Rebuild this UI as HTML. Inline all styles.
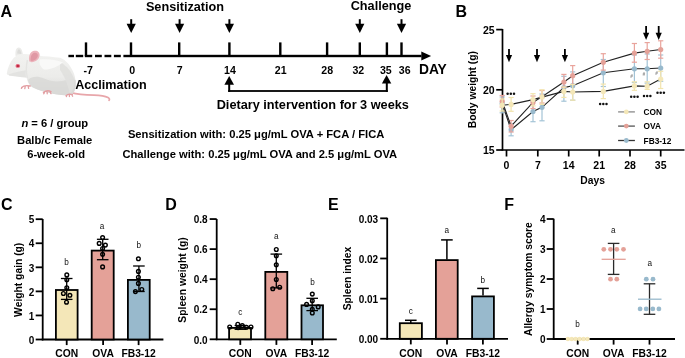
<!DOCTYPE html><html><head><meta charset="utf-8"><style>html,body{margin:0;padding:0;background:#fff;}svg{display:block;will-change:transform;}text{font-family:"Liberation Sans", sans-serif;}</style></head><body>
<svg width="685" height="358" viewBox="0 0 685 358">
<rect width="685" height="358" fill="#fff"/>
<text x="0.6" y="16.6" font-size="16" text-anchor="start" font-weight="bold" fill="#000" >A</text>
<text x="185.0" y="10.7" font-size="12.7" text-anchor="middle" font-weight="bold" fill="#000" >Sensitization</text>
<text x="381.0" y="10.2" font-size="12.7" text-anchor="middle" font-weight="bold" fill="#000" >Challenge</text>
<rect x="130.2" y="19.2" width="2.0" height="5.600000000000001" fill="#000" />
<polygon points="126.6,23.8 135.79999999999998,23.8 131.2,33.0" fill="#000"/>
<rect x="178.6" y="19.2" width="2.0" height="5.600000000000001" fill="#000" />
<polygon points="175.0,23.8 184.2,23.8 179.6,33.0" fill="#000"/>
<rect x="228.4" y="19.2" width="2.0" height="5.600000000000001" fill="#000" />
<polygon points="224.8,23.8 234.0,23.8 229.4,33.0" fill="#000"/>
<rect x="358.8" y="19.2" width="2.0" height="5.600000000000001" fill="#000" />
<polygon points="355.2,23.8 364.40000000000003,23.8 359.8,33.0" fill="#000"/>
<rect x="400.5" y="19.2" width="2.0" height="5.600000000000001" fill="#000" />
<polygon points="396.9,23.8 406.1,23.8 401.5,33.0" fill="#000"/>
<rect x="68.4" y="54.8" width="5.599999999999994" height="2.4" fill="#000" />
<rect x="75.8" y="54.8" width="7.400000000000006" height="2.4" fill="#000" />
<rect x="84.8" y="54.8" width="7.400000000000006" height="2.4" fill="#000" />
<rect x="95" y="54.8" width="6.799999999999997" height="2.4" fill="#000" />
<rect x="104.5" y="54.8" width="6.799999999999997" height="2.4" fill="#000" />
<rect x="113.9" y="54.8" width="6.8999999999999915" height="2.4" fill="#000" />
<rect x="123.4" y="54.8" width="298.1" height="2.4" fill="#000" />
<polygon points="421.3,51.4 431.1,56 421.3,60.6" fill="#000"/>
<rect x="84.8" y="42.4" width="2.4" height="13.600000000000001" fill="#000" />
<rect x="129.8" y="42.4" width="2.4" height="13.600000000000001" fill="#000" />
<rect x="178.0" y="42.4" width="2.4" height="13.600000000000001" fill="#000" />
<rect x="228.20000000000002" y="42.4" width="2.4" height="13.600000000000001" fill="#000" />
<rect x="279.1" y="42.4" width="2.4" height="13.600000000000001" fill="#000" />
<rect x="325.90000000000003" y="42.4" width="2.4" height="13.600000000000001" fill="#000" />
<rect x="358.6" y="42.4" width="2.4" height="13.600000000000001" fill="#000" />
<rect x="385.7" y="42.4" width="2.4" height="13.600000000000001" fill="#000" />
<rect x="400.3" y="42.4" width="2.4" height="13.600000000000001" fill="#000" />
<text x="88.2" y="73.7" font-size="10.6" text-anchor="middle" font-weight="bold" fill="#000" >-7</text>
<text x="132.1" y="73.7" font-size="10.6" text-anchor="middle" font-weight="bold" fill="#000" >0</text>
<text x="179.6" y="73.7" font-size="10.6" text-anchor="middle" font-weight="bold" fill="#000" >7</text>
<text x="229.9" y="73.7" font-size="10.6" text-anchor="middle" font-weight="bold" fill="#000" >14</text>
<text x="280.7" y="73.7" font-size="10.6" text-anchor="middle" font-weight="bold" fill="#000" >21</text>
<text x="327.2" y="73.7" font-size="10.6" text-anchor="middle" font-weight="bold" fill="#000" >28</text>
<text x="358.3" y="73.7" font-size="10.6" text-anchor="middle" font-weight="bold" fill="#000" >32</text>
<text x="385.8" y="73.7" font-size="10.6" text-anchor="middle" font-weight="bold" fill="#000" >35</text>
<text x="404.7" y="73.7" font-size="10.6" text-anchor="middle" font-weight="bold" fill="#000" >36</text>
<text x="432.9" y="73.8" font-size="13.8" text-anchor="middle" font-weight="bold" fill="#000" >DAY</text>
<text x="110.9" y="88.9" font-size="12.6" text-anchor="middle" font-weight="bold" fill="#000" >Acclimation</text>
<polygon points="224.39999999999998,84.7 234.0,84.7 229.2,75.9" fill="#000"/>
<polygon points="381.90000000000003,83.6 391.3,83.6 386.6,74.9" fill="#000"/>
<rect x="228.2" y="84" width="2.0" height="7.900000000000006" fill="#000" />
<rect x="385.8" y="83" width="2.0" height="8.900000000000006" fill="#000" />
<rect x="228.2" y="90.1" width="159.60000000000002" height="1.8" fill="#000" />
<text x="312.8" y="109.1" font-size="12.72" text-anchor="middle" font-weight="bold" fill="#000" >Dietary intervention for 3 weeks</text>
<text x="256.1" y="138.2" font-size="11.2" text-anchor="middle" font-weight="bold" fill="#000" >Sensitization with: 0.25 μg/mL OVA + FCA / FICA</text>
<text x="259.8" y="158.0" font-size="11.2" text-anchor="middle" font-weight="bold" fill="#000" >Challenge with: 0.25 μg/mL OVA and 2.5 μg/mL OVA</text>
<text x="54.8" y="127.0" font-size="11.2" text-anchor="middle" font-weight="bold"><tspan font-style="italic">n</tspan> = 6 / group</text>
<text x="54.7" y="143.5" font-size="11.2" text-anchor="middle" font-weight="bold" fill="#000" >Balb/c Female</text>
<text x="56.1" y="158.4" font-size="11.2" text-anchor="middle" font-weight="bold" fill="#000" >6-week-old</text>

<defs>
<linearGradient id="mbody" x1="0" y1="0" x2="0" y2="1">
<stop offset="0" stop-color="#f2f2f0"/><stop offset="0.55" stop-color="#ececea"/><stop offset="1" stop-color="#d6d6d4"/>
</linearGradient>
</defs>
<g>
<path d="M71,92.6 C78,94.6 86,95 94,95.1 C100,95.3 105,96 108,97.5 C109.6,98.4 109.8,99.6 109,100.3" fill="none" stroke="#e8a6aa" stroke-width="1.7" stroke-linecap="round"/>
<path d="M15.6,56 C15,51 16,47.8 18.6,47.4 C21,47.2 22.4,50 23,55 Z" fill="#ebebe9"/>
<path d="M17.2,53.6 C17.2,50.6 18.2,49.2 19,49.2 C20.2,49.4 21,51.4 21.4,54 Z" fill="#dcdcda"/>
<path d="M6.8,73.6 C7.6,68 10,62 13.6,58 C16.6,55 20.6,53.6 25,54 C29,54.4 33,55 38,55.4 C45,56.4 53,56.6 60.2,57.8 C66,60 71,66 73.9,73.5 C75.6,78 76.2,84 75,89.4 C74,92.4 72.4,94.4 69.6,95 C63,95.6 57,94.6 50,93 C44,91.8 38,90 33,87.6 C29.4,85.8 27.4,82 26.6,77.6 C22,76.6 17,76.6 12,76 C9,75.6 6.6,75 6.8,73.6 Z" fill="url(#mbody)"/>
<path d="M28,80 C32,76 38,76 44,78.5 C50,81 56,82 62,81 C67,80 71,78 75.6,80 C76,84 75.8,88 75,89.4 C74,92.4 72.4,94.4 69.6,95 C63,95.6 57,94.6 50,93 C44,91.8 38,90 33,87.6 C30,86 28.6,83 28,80 Z" fill="#d9d9d7" opacity="0.85"/>
<path d="M60,62 C67,66 72,72 74.6,80 C74.6,86 73,91 70,94 C68,87 66,78 60,70 Z" fill="#e0e0de" opacity="0.9"/>
<path d="M40,59.5 C48,59 56,59.6 63,62.4 C58,66 52,69.6 44,69.6 C40,67 38.6,62.6 40,59.5 Z" fill="#f9f9f8"/>
<path d="M9,74.2 C14,72.6 20,71.2 26,70.2 C25.4,73 25.6,75.6 26.4,77.6 C20,76.8 14,76.2 9,75.4 Z" fill="#e3e3e1"/>
<path d="M27.4,60 C26,66 26,72 27.4,78" fill="none" stroke="#e4e4e2" stroke-width="1.4"/>
<path d="M29.2,61 C28.6,56 30,51.6 34,50.8 C37.6,50.2 40,52.4 39.6,55.6 C39.2,59.4 35.6,62.2 31.6,62.2 C30.4,62.2 29.6,61.8 29.2,61 Z" fill="#ecb4bc"/>
<path d="M30.6,60.4 C30.4,56.6 31.6,53.4 34.4,52.8 C36.8,52.4 38.2,54 37.8,56.2 C37.2,58.8 34.6,60.8 31.8,61 Z" fill="#e098a4"/>
<ellipse cx="17.8" cy="65.9" rx="2.3" ry="1.9" fill="#e36078"/>
<ellipse cx="17.9" cy="65.9" rx="1.2" ry="1.0" fill="#b8243c"/>
<path d="M21.6,87.4 C23.5,85.6 27,85.2 30.2,86 M22.4,87.2 L21.4,88.4 M25.2,86.6 L24.8,88.6 M28.2,86.4 L28.6,88.4" stroke="#e39ea2" stroke-width="1.3" fill="none" stroke-linecap="round"/>
<path d="M43.4,92.6 C45.6,90.6 48.6,90.4 51,91.6 M44.4,92.6 L43.8,93.8 M47.2,91.8 L47.2,93.8 M50,92 L51,93.6" stroke="#e39ea2" stroke-width="1.3" fill="none" stroke-linecap="round"/>
<path d="M66,95.6 C67.6,94 70,93.8 72.4,94.6 M66.8,95.4 L66.4,96.6 M69.4,94.8 L69.4,96.6 M71.8,95 L72.6,96.2" stroke="#e39ea2" stroke-width="1.3" fill="none" stroke-linecap="round"/>
</g>
<text x="455.6" y="16.8" font-size="16" text-anchor="start" font-weight="bold" fill="#000" >B</text>
<line x1="502.5" y1="29.0" x2="502.5" y2="150.5" stroke="#000" stroke-width="1.7" />
<line x1="501.7" y1="150.0" x2="684.5" y2="150.0" stroke="#000" stroke-width="1.7" />
<line x1="496.2" y1="29.6" x2="502.5" y2="29.6" stroke="#000" stroke-width="1.7" />
<text x="494.6" y="33.7" font-size="10.5" text-anchor="end" font-weight="bold" fill="#000" >25</text>
<line x1="496.2" y1="89.8" x2="502.5" y2="89.8" stroke="#000" stroke-width="1.7" />
<text x="494.6" y="93.89999999999999" font-size="10.5" text-anchor="end" font-weight="bold" fill="#000" >20</text>
<line x1="496.2" y1="150.0" x2="502.5" y2="150.0" stroke="#000" stroke-width="1.7" />
<text x="494.6" y="154.1" font-size="10.5" text-anchor="end" font-weight="bold" fill="#000" >15</text>
<line x1="506.5" y1="150.0" x2="506.5" y2="156.5" stroke="#000" stroke-width="1.7" />
<text x="506.5" y="168.8" font-size="10.5" text-anchor="middle" font-weight="bold" fill="#000" >0</text>
<line x1="537.8" y1="150.0" x2="537.8" y2="156.5" stroke="#000" stroke-width="1.7" />
<text x="537.8" y="168.8" font-size="10.5" text-anchor="middle" font-weight="bold" fill="#000" >7</text>
<line x1="568.7" y1="150.0" x2="568.7" y2="156.5" stroke="#000" stroke-width="1.7" />
<text x="568.7" y="168.8" font-size="10.5" text-anchor="middle" font-weight="bold" fill="#000" >14</text>
<line x1="599.2" y1="150.0" x2="599.2" y2="156.5" stroke="#000" stroke-width="1.7" />
<text x="599.2" y="168.8" font-size="10.5" text-anchor="middle" font-weight="bold" fill="#000" >21</text>
<line x1="630.0" y1="150.0" x2="630.0" y2="156.5" stroke="#000" stroke-width="1.7" />
<text x="630.0" y="168.8" font-size="10.5" text-anchor="middle" font-weight="bold" fill="#000" >28</text>
<line x1="660.7" y1="150.0" x2="660.7" y2="156.5" stroke="#000" stroke-width="1.7" />
<text x="660.7" y="168.8" font-size="10.5" text-anchor="middle" font-weight="bold" fill="#000" >35</text>
<text x="592.6" y="183.6" font-size="10.3" text-anchor="middle" font-weight="bold" fill="#000" >Days</text>
<text x="0" y="0" font-size="10.3" font-weight="bold" text-anchor="middle" transform="translate(476.0,89.6) rotate(-90)">Body weight (g)</text>
<rect x="508.1" y="49.0" width="1.8" height="7.0" fill="#000" />
<polygon points="505.9,55.0 512.1,55.0 509.0,62.2" fill="#000"/>
<rect x="536.1" y="49.0" width="1.8" height="7.0" fill="#000" />
<polygon points="533.9,55.0 540.1,55.0 537.0,62.2" fill="#000"/>
<rect x="564.0" y="49.0" width="1.8" height="7.0" fill="#000" />
<polygon points="561.8,55.0 568.0,55.0 564.9,62.2" fill="#000"/>
<rect x="645.2" y="26.0" width="1.8" height="7.799999999999997" fill="#000" />
<polygon points="643.0,32.8 649.2,32.8 646.1,40.0" fill="#000"/>
<rect x="657.8000000000001" y="26.0" width="1.8" height="7.799999999999997" fill="#000" />
<polygon points="655.6,32.8 661.8000000000001,32.8 658.7,40.0" fill="#000"/>
<line x1="502.2" y1="97" x2="502.2" y2="112.8" stroke="#a3c3d6" stroke-width="1.2" />
<line x1="499.59999999999997" y1="97" x2="504.8" y2="97" stroke="#a3c3d6" stroke-width="1.2" />
<line x1="499.59999999999997" y1="112.8" x2="504.8" y2="112.8" stroke="#a3c3d6" stroke-width="1.2" />
<line x1="511.1" y1="124" x2="511.1" y2="135.8" stroke="#a3c3d6" stroke-width="1.2" />
<line x1="508.5" y1="124" x2="513.7" y2="124" stroke="#a3c3d6" stroke-width="1.2" />
<line x1="508.5" y1="135.8" x2="513.7" y2="135.8" stroke="#a3c3d6" stroke-width="1.2" />
<line x1="533.0" y1="101.5" x2="533.0" y2="121.7" stroke="#a3c3d6" stroke-width="1.2" />
<line x1="530.4" y1="101.5" x2="535.6" y2="101.5" stroke="#a3c3d6" stroke-width="1.2" />
<line x1="530.4" y1="121.7" x2="535.6" y2="121.7" stroke="#a3c3d6" stroke-width="1.2" />
<line x1="542.0" y1="94" x2="542.0" y2="120.8" stroke="#a3c3d6" stroke-width="1.2" />
<line x1="539.4" y1="94" x2="544.6" y2="94" stroke="#a3c3d6" stroke-width="1.2" />
<line x1="539.4" y1="120.8" x2="544.6" y2="120.8" stroke="#a3c3d6" stroke-width="1.2" />
<line x1="563.9" y1="76.3" x2="563.9" y2="101.2" stroke="#a3c3d6" stroke-width="1.2" />
<line x1="561.3" y1="76.3" x2="566.5" y2="76.3" stroke="#a3c3d6" stroke-width="1.2" />
<line x1="561.3" y1="101.2" x2="566.5" y2="101.2" stroke="#a3c3d6" stroke-width="1.2" />
<line x1="572.7" y1="71.9" x2="572.7" y2="100.2" stroke="#a3c3d6" stroke-width="1.2" />
<line x1="570.1" y1="71.9" x2="575.3000000000001" y2="71.9" stroke="#a3c3d6" stroke-width="1.2" />
<line x1="570.1" y1="100.2" x2="575.3000000000001" y2="100.2" stroke="#a3c3d6" stroke-width="1.2" />
<line x1="603.3" y1="59.5" x2="603.3" y2="86.5" stroke="#a3c3d6" stroke-width="1.2" />
<line x1="600.6999999999999" y1="59.5" x2="605.9" y2="59.5" stroke="#a3c3d6" stroke-width="1.2" />
<line x1="600.6999999999999" y1="86.5" x2="605.9" y2="86.5" stroke="#a3c3d6" stroke-width="1.2" />
<line x1="634.4" y1="55" x2="634.4" y2="82.5" stroke="#a3c3d6" stroke-width="1.2" />
<line x1="631.8" y1="55" x2="637.0" y2="55" stroke="#a3c3d6" stroke-width="1.2" />
<line x1="631.8" y1="82.5" x2="637.0" y2="82.5" stroke="#a3c3d6" stroke-width="1.2" />
<line x1="647.2" y1="54" x2="647.2" y2="83.1" stroke="#a3c3d6" stroke-width="1.2" />
<line x1="644.6" y1="54" x2="649.8000000000001" y2="54" stroke="#a3c3d6" stroke-width="1.2" />
<line x1="644.6" y1="83.1" x2="649.8000000000001" y2="83.1" stroke="#a3c3d6" stroke-width="1.2" />
<line x1="660.7" y1="55" x2="660.7" y2="81.3" stroke="#a3c3d6" stroke-width="1.2" />
<line x1="658.1" y1="55" x2="663.3000000000001" y2="55" stroke="#a3c3d6" stroke-width="1.2" />
<line x1="658.1" y1="81.3" x2="663.3000000000001" y2="81.3" stroke="#a3c3d6" stroke-width="1.2" />
<polyline points="502.2,103.6 511.1,129.7 533.0,111.5 542.0,107.3 563.9,87.6 572.7,85.7 603.3,72.8 634.4,68.8 647.2,68.8 660.7,68.0" fill="none" stroke="#222" stroke-width="1.1"/>
<circle cx="502.2" cy="103.6" r="2.6" fill="#98b9cc"/>
<circle cx="511.1" cy="129.7" r="2.6" fill="#98b9cc"/>
<circle cx="533.0" cy="111.5" r="2.6" fill="#98b9cc"/>
<circle cx="542.0" cy="107.3" r="2.6" fill="#98b9cc"/>
<circle cx="563.9" cy="87.6" r="2.6" fill="#98b9cc"/>
<circle cx="572.7" cy="85.7" r="2.6" fill="#98b9cc"/>
<circle cx="603.3" cy="72.8" r="2.6" fill="#98b9cc"/>
<circle cx="634.4" cy="68.8" r="2.6" fill="#98b9cc"/>
<circle cx="647.2" cy="68.8" r="2.6" fill="#98b9cc"/>
<circle cx="660.7" cy="68.0" r="2.6" fill="#98b9cc"/>
<line x1="502.2" y1="95.5" x2="502.2" y2="107" stroke="#e9a49c" stroke-width="1.2" />
<line x1="499.59999999999997" y1="95.5" x2="504.8" y2="95.5" stroke="#e9a49c" stroke-width="1.2" />
<line x1="499.59999999999997" y1="107" x2="504.8" y2="107" stroke="#e9a49c" stroke-width="1.2" />
<line x1="511.1" y1="120.5" x2="511.1" y2="132" stroke="#e9a49c" stroke-width="1.2" />
<line x1="508.5" y1="120.5" x2="513.7" y2="120.5" stroke="#e9a49c" stroke-width="1.2" />
<line x1="508.5" y1="132" x2="513.7" y2="132" stroke="#e9a49c" stroke-width="1.2" />
<line x1="533.0" y1="96" x2="533.0" y2="108.5" stroke="#e9a49c" stroke-width="1.2" />
<line x1="530.4" y1="96" x2="535.6" y2="96" stroke="#e9a49c" stroke-width="1.2" />
<line x1="530.4" y1="108.5" x2="535.6" y2="108.5" stroke="#e9a49c" stroke-width="1.2" />
<line x1="542.0" y1="90.5" x2="542.0" y2="103" stroke="#e9a49c" stroke-width="1.2" />
<line x1="539.4" y1="90.5" x2="544.6" y2="90.5" stroke="#e9a49c" stroke-width="1.2" />
<line x1="539.4" y1="103" x2="544.6" y2="103" stroke="#e9a49c" stroke-width="1.2" />
<line x1="563.9" y1="74.4" x2="563.9" y2="87.5" stroke="#e9a49c" stroke-width="1.2" />
<line x1="561.3" y1="74.4" x2="566.5" y2="74.4" stroke="#e9a49c" stroke-width="1.2" />
<line x1="561.3" y1="87.5" x2="566.5" y2="87.5" stroke="#e9a49c" stroke-width="1.2" />
<line x1="572.7" y1="65.6" x2="572.7" y2="84.5" stroke="#e9a49c" stroke-width="1.2" />
<line x1="570.1" y1="65.6" x2="575.3000000000001" y2="65.6" stroke="#e9a49c" stroke-width="1.2" />
<line x1="570.1" y1="84.5" x2="575.3000000000001" y2="84.5" stroke="#e9a49c" stroke-width="1.2" />
<line x1="603.3" y1="53.7" x2="603.3" y2="70.1" stroke="#e9a49c" stroke-width="1.2" />
<line x1="600.6999999999999" y1="53.7" x2="605.9" y2="53.7" stroke="#e9a49c" stroke-width="1.2" />
<line x1="600.6999999999999" y1="70.1" x2="605.9" y2="70.1" stroke="#e9a49c" stroke-width="1.2" />
<line x1="634.4" y1="43.5" x2="634.4" y2="62.2" stroke="#e9a49c" stroke-width="1.2" />
<line x1="631.8" y1="43.5" x2="637.0" y2="43.5" stroke="#e9a49c" stroke-width="1.2" />
<line x1="631.8" y1="62.2" x2="637.0" y2="62.2" stroke="#e9a49c" stroke-width="1.2" />
<line x1="647.2" y1="42.6" x2="647.2" y2="59.5" stroke="#e9a49c" stroke-width="1.2" />
<line x1="644.6" y1="42.6" x2="649.8000000000001" y2="42.6" stroke="#e9a49c" stroke-width="1.2" />
<line x1="644.6" y1="59.5" x2="649.8000000000001" y2="59.5" stroke="#e9a49c" stroke-width="1.2" />
<line x1="660.7" y1="40.8" x2="660.7" y2="58.2" stroke="#e9a49c" stroke-width="1.2" />
<line x1="658.1" y1="40.8" x2="663.3000000000001" y2="40.8" stroke="#e9a49c" stroke-width="1.2" />
<line x1="658.1" y1="58.2" x2="663.3000000000001" y2="58.2" stroke="#e9a49c" stroke-width="1.2" />
<polyline points="502.2,101.3 511.1,126.2 533.0,102.4 542.0,96.8 563.9,82 572.7,75.7 603.3,62.3 634.4,53.1 647.2,51.3 660.7,49.5" fill="none" stroke="#222" stroke-width="1.1"/>
<circle cx="502.2" cy="101.3" r="2.6" fill="#e4a198"/>
<circle cx="511.1" cy="126.2" r="2.6" fill="#e4a198"/>
<circle cx="533.0" cy="102.4" r="2.6" fill="#e4a198"/>
<circle cx="542.0" cy="96.8" r="2.6" fill="#e4a198"/>
<circle cx="563.9" cy="82" r="2.6" fill="#e4a198"/>
<circle cx="572.7" cy="75.7" r="2.6" fill="#e4a198"/>
<circle cx="603.3" cy="62.3" r="2.6" fill="#e4a198"/>
<circle cx="634.4" cy="53.1" r="2.6" fill="#e4a198"/>
<circle cx="647.2" cy="51.3" r="2.6" fill="#e4a198"/>
<circle cx="660.7" cy="49.5" r="2.6" fill="#e4a198"/>
<line x1="502.2" y1="99" x2="502.2" y2="111" stroke="#f2e4ad" stroke-width="1.2" />
<line x1="499.59999999999997" y1="99" x2="504.8" y2="99" stroke="#f2e4ad" stroke-width="1.2" />
<line x1="499.59999999999997" y1="111" x2="504.8" y2="111" stroke="#f2e4ad" stroke-width="1.2" />
<line x1="511.1" y1="97.5" x2="511.1" y2="111.3" stroke="#f2e4ad" stroke-width="1.2" />
<line x1="508.5" y1="97.5" x2="513.7" y2="97.5" stroke="#f2e4ad" stroke-width="1.2" />
<line x1="508.5" y1="111.3" x2="513.7" y2="111.3" stroke="#f2e4ad" stroke-width="1.2" />
<line x1="533.0" y1="93.7" x2="533.0" y2="105.9" stroke="#f2e4ad" stroke-width="1.2" />
<line x1="530.4" y1="93.7" x2="535.6" y2="93.7" stroke="#f2e4ad" stroke-width="1.2" />
<line x1="530.4" y1="105.9" x2="535.6" y2="105.9" stroke="#f2e4ad" stroke-width="1.2" />
<line x1="542.0" y1="89.8" x2="542.0" y2="104.4" stroke="#f2e4ad" stroke-width="1.2" />
<line x1="539.4" y1="89.8" x2="544.6" y2="89.8" stroke="#f2e4ad" stroke-width="1.2" />
<line x1="539.4" y1="104.4" x2="544.6" y2="104.4" stroke="#f2e4ad" stroke-width="1.2" />
<line x1="563.9" y1="87" x2="563.9" y2="97.4" stroke="#f2e4ad" stroke-width="1.2" />
<line x1="561.3" y1="87" x2="566.5" y2="87" stroke="#f2e4ad" stroke-width="1.2" />
<line x1="561.3" y1="97.4" x2="566.5" y2="97.4" stroke="#f2e4ad" stroke-width="1.2" />
<line x1="572.7" y1="84.5" x2="572.7" y2="100.2" stroke="#f2e4ad" stroke-width="1.2" />
<line x1="570.1" y1="84.5" x2="575.3000000000001" y2="84.5" stroke="#f2e4ad" stroke-width="1.2" />
<line x1="570.1" y1="100.2" x2="575.3000000000001" y2="100.2" stroke="#f2e4ad" stroke-width="1.2" />
<line x1="603.3" y1="84.1" x2="603.3" y2="98.6" stroke="#f2e4ad" stroke-width="1.2" />
<line x1="600.6999999999999" y1="84.1" x2="605.9" y2="84.1" stroke="#f2e4ad" stroke-width="1.2" />
<line x1="600.6999999999999" y1="98.6" x2="605.9" y2="98.6" stroke="#f2e4ad" stroke-width="1.2" />
<line x1="634.4" y1="81.8" x2="634.4" y2="90.3" stroke="#f2e4ad" stroke-width="1.2" />
<line x1="631.8" y1="81.8" x2="637.0" y2="81.8" stroke="#f2e4ad" stroke-width="1.2" />
<line x1="631.8" y1="90.3" x2="637.0" y2="90.3" stroke="#f2e4ad" stroke-width="1.2" />
<line x1="647.2" y1="81.8" x2="647.2" y2="89.4" stroke="#f2e4ad" stroke-width="1.2" />
<line x1="644.6" y1="81.8" x2="649.8000000000001" y2="81.8" stroke="#f2e4ad" stroke-width="1.2" />
<line x1="644.6" y1="89.4" x2="649.8000000000001" y2="89.4" stroke="#f2e4ad" stroke-width="1.2" />
<line x1="660.7" y1="71.3" x2="660.7" y2="88.5" stroke="#f2e4ad" stroke-width="1.2" />
<line x1="658.1" y1="71.3" x2="663.3000000000001" y2="71.3" stroke="#f2e4ad" stroke-width="1.2" />
<line x1="658.1" y1="88.5" x2="663.3000000000001" y2="88.5" stroke="#f2e4ad" stroke-width="1.2" />
<polyline points="502.2,105.2 511.1,104.4 533.0,99.6 542.0,97.1 563.9,91.4 572.7,92.0 603.3,91.4 634.4,85.9 647.2,86.2 660.7,79.0" fill="none" stroke="#222" stroke-width="1.1"/>
<circle cx="502.2" cy="105.2" r="2.6" fill="#f4e7b8"/>
<circle cx="511.1" cy="104.4" r="2.6" fill="#f4e7b8"/>
<circle cx="533.0" cy="99.6" r="2.6" fill="#f4e7b8"/>
<circle cx="542.0" cy="97.1" r="2.6" fill="#f4e7b8"/>
<circle cx="563.9" cy="91.4" r="2.6" fill="#f4e7b8"/>
<circle cx="572.7" cy="92.0" r="2.6" fill="#f4e7b8"/>
<circle cx="603.3" cy="91.4" r="2.6" fill="#f4e7b8"/>
<circle cx="634.4" cy="85.9" r="2.6" fill="#f4e7b8"/>
<circle cx="647.2" cy="86.2" r="2.6" fill="#f4e7b8"/>
<circle cx="660.7" cy="79.0" r="2.6" fill="#f4e7b8"/>
<circle cx="507.6" cy="93.8" r="1.25" fill="#111"/>
<circle cx="510.8" cy="93.8" r="1.25" fill="#111"/>
<circle cx="514.0" cy="93.8" r="1.25" fill="#111"/>
<circle cx="600.0999999999999" cy="104.1" r="1.25" fill="#111"/>
<circle cx="603.3" cy="104.1" r="1.25" fill="#111"/>
<circle cx="606.5" cy="104.1" r="1.25" fill="#111"/>
<circle cx="631.1999999999999" cy="96.7" r="1.25" fill="#111"/>
<circle cx="634.4" cy="96.7" r="1.25" fill="#111"/>
<circle cx="637.6" cy="96.7" r="1.25" fill="#111"/>
<circle cx="644.0" cy="95.9" r="1.25" fill="#111"/>
<circle cx="647.2" cy="95.9" r="1.25" fill="#111"/>
<circle cx="650.4000000000001" cy="95.9" r="1.25" fill="#111"/>
<circle cx="657.5" cy="92.8" r="1.25" fill="#111"/>
<circle cx="660.7" cy="92.8" r="1.25" fill="#111"/>
<circle cx="663.9000000000001" cy="92.8" r="1.25" fill="#111"/>
<text x="631.6" y="77.6" font-size="4.6" text-anchor="middle" font-weight="bold" fill="#888" font-style="italic">#</text>
<text x="643.7" y="76.39999999999999" font-size="4.6" text-anchor="middle" font-weight="bold" fill="#888" font-style="italic">#</text>
<text x="656.5" y="74.5" font-size="4.6" text-anchor="middle" font-weight="bold" fill="#888" font-style="italic">#</text>
<line x1="618.1" y1="111.9" x2="634.9" y2="111.9" stroke="#8a8a8a" stroke-width="1.3" />
<circle cx="626.3" cy="111.9" r="2.4" fill="#f4e7b8"/>
<text x="643.6" y="114.9" font-size="8.3" text-anchor="start" font-weight="bold" fill="#000" >CON</text>
<line x1="618.1" y1="126.1" x2="634.9" y2="126.1" stroke="#555" stroke-width="1.3" />
<circle cx="626.3" cy="126.1" r="2.4" fill="#e4a198"/>
<text x="643.6" y="129.1" font-size="8.3" text-anchor="start" font-weight="bold" fill="#000" >OVA</text>
<line x1="618.1" y1="140.5" x2="634.9" y2="140.5" stroke="#333" stroke-width="1.3" />
<circle cx="626.3" cy="140.5" r="2.4" fill="#98b9cc"/>
<text x="643.6" y="143.5" font-size="8.3" text-anchor="start" font-weight="bold" fill="#000" >FB3-12</text>
<text x="1.0" y="210.0" font-size="16" text-anchor="start" font-weight="bold" fill="#000" >C</text>
<line x1="42.7" y1="219.0" x2="42.7" y2="340.35" stroke="#000" stroke-width="1.8" />
<line x1="41.800000000000004" y1="339.5" x2="163.4" y2="339.5" stroke="#000" stroke-width="1.8" />
<line x1="35.7" y1="339.5" x2="42.7" y2="339.5" stroke="#000" stroke-width="1.8" />
<text x="34.4" y="343.7" font-size="10.0" text-anchor="end" font-weight="bold" fill="#000" >0</text>
<line x1="35.7" y1="315.44" x2="42.7" y2="315.44" stroke="#000" stroke-width="1.8" />
<text x="34.4" y="319.64" font-size="10.0" text-anchor="end" font-weight="bold" fill="#000" >1</text>
<line x1="35.7" y1="291.38" x2="42.7" y2="291.38" stroke="#000" stroke-width="1.8" />
<text x="34.4" y="295.58" font-size="10.0" text-anchor="end" font-weight="bold" fill="#000" >2</text>
<line x1="35.7" y1="267.32" x2="42.7" y2="267.32" stroke="#000" stroke-width="1.8" />
<text x="34.4" y="271.52" font-size="10.0" text-anchor="end" font-weight="bold" fill="#000" >3</text>
<line x1="35.7" y1="243.26" x2="42.7" y2="243.26" stroke="#000" stroke-width="1.8" />
<text x="34.4" y="247.45999999999998" font-size="10.0" text-anchor="end" font-weight="bold" fill="#000" >4</text>
<line x1="35.7" y1="219.2" x2="42.7" y2="219.2" stroke="#000" stroke-width="1.8" />
<text x="34.4" y="223.39999999999998" font-size="10.0" text-anchor="end" font-weight="bold" fill="#000" >5</text>
<text x="0" y="0" font-size="10.3" font-weight="bold" text-anchor="middle" transform="translate(21.6,279.8) rotate(-90)">Weight gain (g)</text>
<rect x="55.9" y="290.0" width="21.7" height="49.49999999999998" fill="#f4e7b8" stroke="#000" stroke-width="1.8"/>
<rect x="91.7" y="250.6" width="21.999999999999996" height="88.9" fill="#e4a198" stroke="#000" stroke-width="1.8"/>
<rect x="127.9" y="279.9" width="21.799999999999994" height="59.6" fill="#98b9cc" stroke="#000" stroke-width="1.8"/>
<line x1="66.7" y1="339.5" x2="66.7" y2="345.1" stroke="#000" stroke-width="1.8" />
<text x="66.7" y="356.8" font-size="10.3" text-anchor="middle" font-weight="bold" fill="#000" >CON</text>
<line x1="103.1" y1="339.5" x2="103.1" y2="345.1" stroke="#000" stroke-width="1.8" />
<text x="103.1" y="356.8" font-size="10.3" text-anchor="middle" font-weight="bold" fill="#000" >OVA</text>
<line x1="138.6" y1="339.5" x2="138.6" y2="345.1" stroke="#000" stroke-width="1.8" />
<text x="138.6" y="356.8" font-size="10.3" text-anchor="middle" font-weight="bold" fill="#000" >FB3-12</text>
<line x1="66.7" y1="278.5" x2="66.7" y2="299.4" stroke="#000" stroke-width="1.3" />
<line x1="60.900000000000006" y1="278.5" x2="72.5" y2="278.5" stroke="#000" stroke-width="1.3" />
<line x1="60.900000000000006" y1="299.4" x2="72.5" y2="299.4" stroke="#000" stroke-width="1.3" />
<line x1="102.7" y1="239.3" x2="102.7" y2="259.7" stroke="#000" stroke-width="1.3" />
<line x1="96.9" y1="239.3" x2="108.5" y2="239.3" stroke="#000" stroke-width="1.3" />
<line x1="96.9" y1="259.7" x2="108.5" y2="259.7" stroke="#000" stroke-width="1.3" />
<line x1="138.9" y1="266.0" x2="138.9" y2="291.5" stroke="#000" stroke-width="1.3" />
<line x1="133.1" y1="266.0" x2="144.70000000000002" y2="266.0" stroke="#000" stroke-width="1.3" />
<line x1="133.1" y1="291.5" x2="144.70000000000002" y2="291.5" stroke="#000" stroke-width="1.3" />
<circle cx="66.8" cy="274.9" r="1.85" fill="none" stroke="#000" stroke-width="1.4"/>
<circle cx="66.8" cy="279.8" r="1.85" fill="none" stroke="#000" stroke-width="1.4"/>
<circle cx="66.8" cy="287.7" r="1.85" fill="none" stroke="#000" stroke-width="1.4"/>
<circle cx="63.4" cy="293.5" r="1.85" fill="none" stroke="#000" stroke-width="1.4"/>
<circle cx="69.9" cy="295.3" r="1.85" fill="none" stroke="#000" stroke-width="1.4"/>
<circle cx="66.5" cy="302.2" r="1.85" fill="none" stroke="#000" stroke-width="1.4"/>
<circle cx="102.6" cy="237.6" r="1.85" fill="none" stroke="#000" stroke-width="1.4"/>
<circle cx="99.2" cy="243.4" r="1.85" fill="none" stroke="#000" stroke-width="1.4"/>
<circle cx="105.4" cy="245.1" r="1.85" fill="none" stroke="#000" stroke-width="1.4"/>
<circle cx="102.6" cy="248.5" r="1.85" fill="none" stroke="#000" stroke-width="1.4"/>
<circle cx="102.6" cy="254.3" r="1.85" fill="none" stroke="#000" stroke-width="1.4"/>
<circle cx="102.6" cy="266.9" r="1.85" fill="none" stroke="#000" stroke-width="1.4"/>
<circle cx="138.4" cy="258.8" r="1.85" fill="none" stroke="#000" stroke-width="1.4"/>
<circle cx="138.4" cy="271.4" r="1.85" fill="none" stroke="#000" stroke-width="1.4"/>
<circle cx="138.4" cy="277.2" r="1.85" fill="none" stroke="#000" stroke-width="1.4"/>
<circle cx="138.4" cy="283.4" r="1.85" fill="none" stroke="#000" stroke-width="1.4"/>
<circle cx="135.4" cy="291.6" r="1.85" fill="none" stroke="#000" stroke-width="1.4"/>
<circle cx="141.8" cy="289.5" r="1.85" fill="none" stroke="#000" stroke-width="1.4"/>
<text x="66.5" y="264.7" font-size="8.2" text-anchor="middle" font-weight="normal" fill="#111" >b</text>
<text x="102.1" y="229.2" font-size="8.2" text-anchor="middle" font-weight="normal" fill="#111" >a</text>
<text x="138.8" y="247.6" font-size="8.2" text-anchor="middle" font-weight="normal" fill="#111" >b</text>
<text x="165.2" y="210.0" font-size="16" text-anchor="start" font-weight="bold" fill="#000" >D</text>
<line x1="216.7" y1="219.0" x2="216.7" y2="340.15000000000003" stroke="#000" stroke-width="1.8" />
<line x1="215.79999999999998" y1="339.3" x2="336.8" y2="339.3" stroke="#000" stroke-width="1.8" />
<line x1="209.7" y1="339.3" x2="216.7" y2="339.3" stroke="#000" stroke-width="1.8" />
<text x="207.6" y="343.5" font-size="10.0" text-anchor="end" font-weight="bold" fill="#000" >0.0</text>
<line x1="209.7" y1="309.24" x2="216.7" y2="309.24" stroke="#000" stroke-width="1.8" />
<text x="207.6" y="313.44" font-size="10.0" text-anchor="end" font-weight="bold" fill="#000" >0.2</text>
<line x1="209.7" y1="279.18" x2="216.7" y2="279.18" stroke="#000" stroke-width="1.8" />
<text x="207.6" y="283.38" font-size="10.0" text-anchor="end" font-weight="bold" fill="#000" >0.4</text>
<line x1="209.7" y1="249.12" x2="216.7" y2="249.12" stroke="#000" stroke-width="1.8" />
<text x="207.6" y="253.32" font-size="10.0" text-anchor="end" font-weight="bold" fill="#000" >0.6</text>
<line x1="209.7" y1="219.06" x2="216.7" y2="219.06" stroke="#000" stroke-width="1.8" />
<text x="207.6" y="223.26" font-size="10.0" text-anchor="end" font-weight="bold" fill="#000" >0.8</text>
<text x="0" y="0" font-size="10.3" font-weight="bold" text-anchor="middle" transform="translate(185.8,280.0) rotate(-90)">Spleen weight (g)</text>
<rect x="229.1" y="327.9" width="21.900000000000016" height="11.400000000000011" fill="#f4e7b8" stroke="#000" stroke-width="1.8"/>
<rect x="265.29999999999995" y="271.9" width="22.00000000000001" height="67.4" fill="#e4a198" stroke="#000" stroke-width="1.8"/>
<rect x="301.5" y="305.29999999999995" width="21.499999999999954" height="34.000000000000036" fill="#98b9cc" stroke="#000" stroke-width="1.8"/>
<line x1="240.3" y1="339.3" x2="240.3" y2="344.90000000000003" stroke="#000" stroke-width="1.8" />
<text x="240.3" y="356.8" font-size="10.3" text-anchor="middle" font-weight="bold" fill="#000" >CON</text>
<line x1="276.4" y1="339.3" x2="276.4" y2="344.90000000000003" stroke="#000" stroke-width="1.8" />
<text x="276.4" y="356.8" font-size="10.3" text-anchor="middle" font-weight="bold" fill="#000" >OVA</text>
<line x1="312.1" y1="339.3" x2="312.1" y2="344.90000000000003" stroke="#000" stroke-width="1.8" />
<text x="312.1" y="356.8" font-size="10.3" text-anchor="middle" font-weight="bold" fill="#000" >FB3-12</text>
<line x1="240.6" y1="325.5" x2="240.6" y2="329.3" stroke="#000" stroke-width="1.3" />
<line x1="234.6" y1="325.5" x2="246.6" y2="325.5" stroke="#000" stroke-width="1.3" />
<line x1="234.6" y1="329.3" x2="246.6" y2="329.3" stroke="#000" stroke-width="1.3" />
<line x1="276.3" y1="254.1" x2="276.3" y2="287.9" stroke="#000" stroke-width="1.3" />
<line x1="270.5" y1="254.1" x2="282.1" y2="254.1" stroke="#000" stroke-width="1.3" />
<line x1="270.5" y1="287.9" x2="282.1" y2="287.9" stroke="#000" stroke-width="1.3" />
<line x1="312.2" y1="298.3" x2="312.2" y2="310.6" stroke="#000" stroke-width="1.3" />
<line x1="306.4" y1="298.3" x2="318.0" y2="298.3" stroke="#000" stroke-width="1.3" />
<line x1="306.4" y1="310.6" x2="318.0" y2="310.6" stroke="#000" stroke-width="1.3" />
<circle cx="229.7" cy="327.0" r="1.85" fill="none" stroke="#000" stroke-width="1.4"/>
<circle cx="237.8" cy="324.2" r="1.85" fill="none" stroke="#000" stroke-width="1.4"/>
<circle cx="238.1" cy="327.6" r="1.85" fill="none" stroke="#000" stroke-width="1.4"/>
<circle cx="242.3" cy="325.6" r="1.85" fill="none" stroke="#000" stroke-width="1.4"/>
<circle cx="246.5" cy="327.3" r="1.85" fill="none" stroke="#000" stroke-width="1.4"/>
<circle cx="251.0" cy="327.0" r="1.85" fill="none" stroke="#000" stroke-width="1.4"/>
<circle cx="276.3" cy="249.5" r="1.85" fill="none" stroke="#000" stroke-width="1.4"/>
<circle cx="276.3" cy="255.8" r="1.85" fill="none" stroke="#000" stroke-width="1.4"/>
<circle cx="276.3" cy="264.8" r="1.85" fill="none" stroke="#000" stroke-width="1.4"/>
<circle cx="276.3" cy="279.5" r="1.85" fill="none" stroke="#000" stroke-width="1.4"/>
<circle cx="272.8" cy="288.7" r="1.85" fill="none" stroke="#000" stroke-width="1.4"/>
<circle cx="279.7" cy="287.2" r="1.85" fill="none" stroke="#000" stroke-width="1.4"/>
<circle cx="312.3" cy="294.1" r="1.85" fill="none" stroke="#000" stroke-width="1.4"/>
<circle cx="312.3" cy="300.7" r="1.85" fill="none" stroke="#000" stroke-width="1.4"/>
<circle cx="306.6" cy="304.4" r="1.85" fill="none" stroke="#000" stroke-width="1.4"/>
<circle cx="318.2" cy="306.9" r="1.85" fill="none" stroke="#000" stroke-width="1.4"/>
<circle cx="312.3" cy="309.3" r="1.85" fill="none" stroke="#000" stroke-width="1.4"/>
<circle cx="312.3" cy="313.0" r="1.85" fill="none" stroke="#000" stroke-width="1.4"/>
<text x="240.3" y="315.1" font-size="8.2" text-anchor="middle" font-weight="normal" fill="#111" >c</text>
<text x="276.2" y="238.5" font-size="8.2" text-anchor="middle" font-weight="normal" fill="#111" >a</text>
<text x="312.5" y="285.3" font-size="8.2" text-anchor="middle" font-weight="normal" fill="#111" >b</text>
<text x="327.9" y="210.0" font-size="16" text-anchor="start" font-weight="bold" fill="#000" >E</text>
<line x1="387.2" y1="217.8" x2="387.2" y2="339.65000000000003" stroke="#000" stroke-width="1.8" />
<line x1="386.3" y1="338.8" x2="508.0" y2="338.8" stroke="#000" stroke-width="1.8" />
<line x1="380.2" y1="338.8" x2="387.2" y2="338.8" stroke="#000" stroke-width="1.8" />
<text x="378.09999999999997" y="343.0" font-size="10.0" text-anchor="end" font-weight="bold" fill="#000" >0.00</text>
<line x1="380.2" y1="298.65000000000003" x2="387.2" y2="298.65000000000003" stroke="#000" stroke-width="1.8" />
<text x="378.09999999999997" y="302.85" font-size="10.0" text-anchor="end" font-weight="bold" fill="#000" >0.01</text>
<line x1="380.2" y1="258.5" x2="387.2" y2="258.5" stroke="#000" stroke-width="1.8" />
<text x="378.09999999999997" y="262.7" font-size="10.0" text-anchor="end" font-weight="bold" fill="#000" >0.02</text>
<line x1="380.2" y1="218.35000000000002" x2="387.2" y2="218.35000000000002" stroke="#000" stroke-width="1.8" />
<text x="378.09999999999997" y="222.55" font-size="10.0" text-anchor="end" font-weight="bold" fill="#000" >0.03</text>
<text x="0" y="0" font-size="10.3" font-weight="bold" text-anchor="middle" transform="translate(350.5,278.6) rotate(-90)">Spleen index</text>
<line x1="410.8" y1="320.3" x2="410.8" y2="323.0" stroke="#000" stroke-width="1.5" />
<line x1="405.0" y1="320.3" x2="416.6" y2="320.3" stroke="#000" stroke-width="1.5" />
<line x1="446.9" y1="239.9" x2="446.9" y2="259.5" stroke="#000" stroke-width="1.5" />
<line x1="441.09999999999997" y1="239.9" x2="452.7" y2="239.9" stroke="#000" stroke-width="1.5" />
<line x1="483.0" y1="288.4" x2="483.0" y2="295.5" stroke="#000" stroke-width="1.5" />
<line x1="477.2" y1="288.4" x2="488.8" y2="288.4" stroke="#000" stroke-width="1.5" />
<rect x="399.79999999999995" y="323.2" width="22.100000000000033" height="15.6" fill="#f4e7b8" stroke="#000" stroke-width="1.8"/>
<rect x="435.9" y="260.09999999999997" width="21.800000000000022" height="78.70000000000002" fill="#e4a198" stroke="#000" stroke-width="1.8"/>
<rect x="472.09999999999997" y="296.4" width="21.800000000000022" height="42.40000000000001" fill="#98b9cc" stroke="#000" stroke-width="1.8"/>
<line x1="410.8" y1="338.8" x2="410.8" y2="344.40000000000003" stroke="#000" stroke-width="1.8" />
<text x="410.8" y="356.8" font-size="10.3" text-anchor="middle" font-weight="bold" fill="#000" >CON</text>
<line x1="447.0" y1="338.8" x2="447.0" y2="344.40000000000003" stroke="#000" stroke-width="1.8" />
<text x="447.0" y="356.8" font-size="10.3" text-anchor="middle" font-weight="bold" fill="#000" >OVA</text>
<line x1="482.9" y1="338.8" x2="482.9" y2="344.40000000000003" stroke="#000" stroke-width="1.8" />
<text x="482.9" y="356.8" font-size="10.3" text-anchor="middle" font-weight="bold" fill="#000" >FB3-12</text>
<text x="410.8" y="314.3" font-size="8.2" text-anchor="middle" font-weight="normal" fill="#111" >c</text>
<text x="446.8" y="233.4" font-size="8.2" text-anchor="middle" font-weight="normal" fill="#111" >a</text>
<text x="482.9" y="283.4" font-size="8.2" text-anchor="middle" font-weight="normal" fill="#111" >b</text>
<text x="504.3" y="210.0" font-size="16" text-anchor="start" font-weight="bold" fill="#000" >F</text>
<line x1="553.7" y1="218.7" x2="553.7" y2="339.85" stroke="#000" stroke-width="1.8" />
<line x1="552.8000000000001" y1="339.0" x2="675.0" y2="339.0" stroke="#000" stroke-width="1.8" />
<line x1="546.7" y1="339.0" x2="553.7" y2="339.0" stroke="#000" stroke-width="1.8" />
<text x="545.6" y="343.2" font-size="10.0" text-anchor="end" font-weight="bold" fill="#000" >0</text>
<line x1="546.7" y1="309.0" x2="553.7" y2="309.0" stroke="#000" stroke-width="1.8" />
<text x="545.6" y="313.2" font-size="10.0" text-anchor="end" font-weight="bold" fill="#000" >1</text>
<line x1="546.7" y1="279.0" x2="553.7" y2="279.0" stroke="#000" stroke-width="1.8" />
<text x="545.6" y="283.2" font-size="10.0" text-anchor="end" font-weight="bold" fill="#000" >2</text>
<line x1="546.7" y1="249.0" x2="553.7" y2="249.0" stroke="#000" stroke-width="1.8" />
<text x="545.6" y="253.2" font-size="10.0" text-anchor="end" font-weight="bold" fill="#000" >3</text>
<line x1="546.7" y1="219.0" x2="553.7" y2="219.0" stroke="#000" stroke-width="1.8" />
<text x="545.6" y="223.2" font-size="10.0" text-anchor="end" font-weight="bold" fill="#000" >4</text>
<text x="0" y="0" font-size="10.3" font-weight="bold" text-anchor="middle" transform="translate(532.1,279.1) rotate(-90)">Allergy symptom score</text>
<line x1="577.7" y1="339.0" x2="577.7" y2="344.6" stroke="#000" stroke-width="1.8" />
<text x="577.7" y="356.8" font-size="10.3" text-anchor="middle" font-weight="bold" fill="#000" >CON</text>
<line x1="613.6" y1="339.0" x2="613.6" y2="344.6" stroke="#000" stroke-width="1.8" />
<text x="613.6" y="356.8" font-size="10.3" text-anchor="middle" font-weight="bold" fill="#000" >OVA</text>
<line x1="649.5" y1="339.0" x2="649.5" y2="344.6" stroke="#000" stroke-width="1.8" />
<text x="649.5" y="356.8" font-size="10.3" text-anchor="middle" font-weight="bold" fill="#000" >FB3-12</text>
<circle cx="567.9" cy="339.0" r="2.2" fill="#f4e7b8"/>
<circle cx="571.8" cy="339.0" r="2.2" fill="#f4e7b8"/>
<circle cx="575.7" cy="339.0" r="2.2" fill="#f4e7b8"/>
<circle cx="579.6" cy="339.0" r="2.2" fill="#f4e7b8"/>
<circle cx="583.5" cy="339.0" r="2.2" fill="#f4e7b8"/>
<circle cx="587.4" cy="339.0" r="2.2" fill="#f4e7b8"/>
<line x1="566" y1="339.0" x2="589.5" y2="339.0" stroke="#f4e7b8" stroke-width="1.3" />
<circle cx="603.8" cy="249.3" r="2.4" fill="#e4a198"/>
<circle cx="610.5" cy="249.3" r="2.4" fill="#e4a198"/>
<circle cx="616.8" cy="249.3" r="2.4" fill="#e4a198"/>
<circle cx="623.5" cy="249.3" r="2.4" fill="#e4a198"/>
<circle cx="610.5" cy="279.2" r="2.4" fill="#e4a198"/>
<circle cx="616.8" cy="279.2" r="2.4" fill="#e4a198"/>
<line x1="613.6" y1="243.4" x2="613.6" y2="274.4" stroke="#2a2a2a" stroke-width="1.3" />
<line x1="607.8000000000001" y1="243.4" x2="619.4" y2="243.4" stroke="#2a2a2a" stroke-width="1.3" />
<line x1="607.8000000000001" y1="274.4" x2="619.4" y2="274.4" stroke="#2a2a2a" stroke-width="1.3" />
<line x1="601.6" y1="259.3" x2="625.7" y2="259.3" stroke="#e4a198" stroke-width="1.3" />
<circle cx="646.3" cy="279.2" r="2.4" fill="#98b9cc"/>
<circle cx="653.0" cy="279.2" r="2.4" fill="#98b9cc"/>
<circle cx="640.1" cy="308.9" r="2.4" fill="#98b9cc"/>
<circle cx="646.2" cy="308.9" r="2.4" fill="#98b9cc"/>
<circle cx="652.8" cy="308.9" r="2.4" fill="#98b9cc"/>
<circle cx="658.9" cy="308.9" r="2.4" fill="#98b9cc"/>
<line x1="649.5" y1="283.8" x2="649.5" y2="314.3" stroke="#2a2a2a" stroke-width="1.3" />
<line x1="643.7" y1="283.8" x2="655.3" y2="283.8" stroke="#2a2a2a" stroke-width="1.3" />
<line x1="643.7" y1="314.3" x2="655.3" y2="314.3" stroke="#2a2a2a" stroke-width="1.3" />
<line x1="638.0" y1="299.2" x2="661.5" y2="299.2" stroke="#98b9cc" stroke-width="1.3" />
<text x="577.5" y="327.1" font-size="8.2" text-anchor="middle" font-weight="normal" fill="#111" >b</text>
<text x="613.4" y="232.7" font-size="8.2" text-anchor="middle" font-weight="normal" fill="#111" >a</text>
<text x="649.8" y="266.1" font-size="8.2" text-anchor="middle" font-weight="normal" fill="#111" >a</text>
</svg></body></html>
